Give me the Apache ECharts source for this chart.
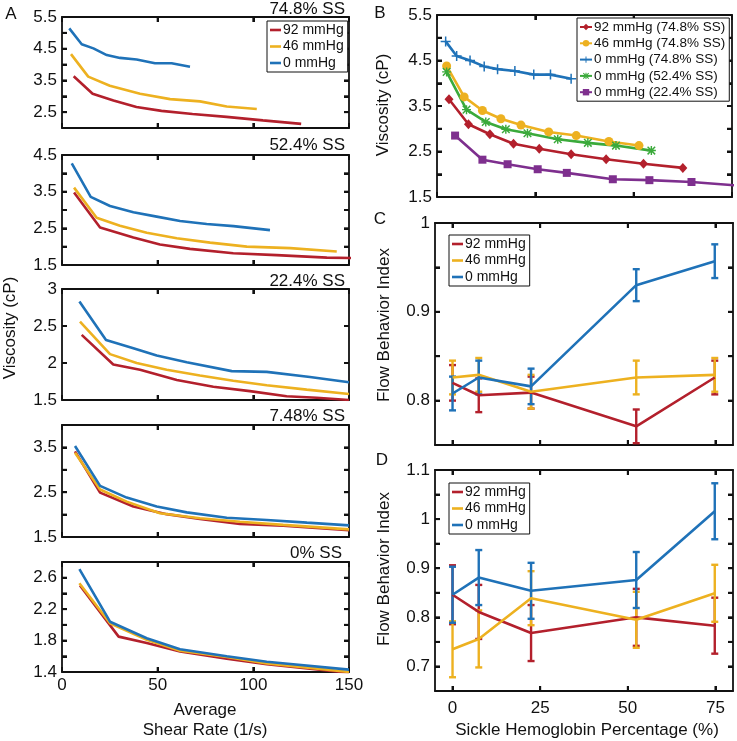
<!DOCTYPE html>
<html>
<head>
<meta charset="utf-8">
<script src="https://cdn.jsdelivr.net/npm/echarts@6/dist/echarts.min.js"></script>
<style>
html,body{margin:0;padding:0;background:#fff;}
#chart{width:737px;height:741px;}
</style>
</head>
<body>
<div id="chart"></div>
<script>
// ---------- DATA ----------
const seriesNames = ['92 mmHg', '46 mmHg', '0 mmHg'];
const panelATitles = ['74.8% SS', '52.4% SS', '22.4% SS', '7.48% SS', '0% SS'];

// Panel A : 74.8% SS
const a1_x92 = [6.1, 16, 26.9, 38.9, 52, 68.2, 86, 105, 125];
const a1_y92 = [3.63, 3.08, 2.87, 2.66, 2.54, 2.44, 2.35, 2.24, 2.13];
const a1_x46 = [4.7, 13.7, 25, 40.8, 56.5, 72.1, 86.1, 101.8];
const a1_y46 = [4.33, 3.62, 3.33, 3.08, 2.91, 2.84, 2.68, 2.60];
const a1_x0 = [3.8, 10.3, 16.4, 23.4, 30.3, 39, 48.6, 57.3, 66.9];
const a1_y0 = [5.14, 4.64, 4.51, 4.30, 4.21, 4.16, 4.04, 4.04, 3.93];
// Panel A : 52.4% SS
const a2_x92 = [6.3, 19.9, 37.3, 51.2, 66.9, 89.5, 112.2, 138.4, 155];
const a2_y92 = [3.48, 2.52, 2.25, 2.06, 1.94, 1.82, 1.77, 1.70, 1.69];
const a2_x46 = [6.3, 18.1, 30.3, 44.3, 60, 77.4, 96.6, 119.3, 143.6];
const a2_y46 = [3.61, 2.79, 2.57, 2.38, 2.23, 2.11, 2.00, 1.96, 1.87];
const a2_x0 = [5.1, 15, 25.1, 37.3, 49.5, 61.7, 75.6, 89.6, 108.7];
const a2_y0 = [4.27, 3.36, 3.11, 2.94, 2.82, 2.70, 2.62, 2.56, 2.45];
// Panel A : 22.4% SS
const a3_x92 = [10.3, 26.8, 40.8, 60, 79.1, 98.2, 117.4, 133.1, 150];
const a3_y92 = [2.38, 1.98, 1.91, 1.77, 1.68, 1.62, 1.55, 1.53, 1.50];
const a3_x46 = [9.4, 25.1, 39, 54.7, 72.1, 89.5, 107, 127.9, 150];
const a3_y46 = [2.56, 2.12, 2.00, 1.91, 1.83, 1.76, 1.70, 1.64, 1.58];
const a3_x0 = [9.1, 23, 37.3, 49.5, 65.2, 88.7, 107, 129.6, 150];
const a3_y0 = [2.83, 2.31, 2.20, 2.10, 2.01, 1.89, 1.88, 1.81, 1.74];
// Panel A : 7.48% SS
const a4_x92 = [6.8, 19.9, 37.3, 54.7, 72.1, 93, 115.6, 150];
const a4_y92 = [3.41, 2.49, 2.18, 2.01, 1.90, 1.79, 1.75, 1.65];
const a4_x46 = [6.8, 19.9, 33.8, 51.2, 72.1, 93, 115.6, 150];
const a4_y46 = [3.38, 2.56, 2.29, 2.03, 1.92, 1.84, 1.77, 1.67];
const a4_x0 = [6.8, 19.9, 33.8, 49.5, 65.2, 86.1, 107, 128, 150];
const a4_y0 = [3.53, 2.64, 2.38, 2.18, 2.05, 1.93, 1.88, 1.82, 1.76];
// Panel A : 0% SS
const a5_x92 = [9.4, 29.6, 44.3, 61.7, 86.1, 107, 150];
const a5_y92 = [2.50, 1.85, 1.77, 1.66, 1.57, 1.50, 1.39];
const a5_x46 = [9.1, 25.1, 44.3, 61.7, 86.1, 107, 150];
const a5_y46 = [2.53, 2.02, 1.81, 1.67, 1.59, 1.51, 1.40];
const a5_x0 = [9.1, 25.1, 44.3, 61.7, 86.1, 107, 150];
const a5_y0 = [2.71, 2.04, 1.83, 1.69, 1.60, 1.53, 1.43];

// Panel B
const bNames = ['92 mmHg (74.8% SS)', '46 mmHg (74.8% SS)', '0 mmHg (74.8% SS)', '0 mmHg (52.4% SS)', '0 mmHg (22.4% SS)'];
const b_x92 = [6.1, 16, 26.9, 38.9, 52, 68.2, 86, 105, 125];
const b_y92 = [3.65, 3.10, 2.88, 2.67, 2.56, 2.44, 2.33, 2.23, 2.14];
const b_x46 = [4.9, 13.8, 23.1, 32.5, 42.7, 56.8, 70.8, 87.4, 102.7];
const b_y46 = [4.38, 3.70, 3.40, 3.22, 3.08, 2.93, 2.85, 2.72, 2.63];
const b_x0 = [4.4, 10, 16.8, 24, 30.8, 39.6, 49.2, 57.7, 68.2];
const b_y0 = [4.92, 4.60, 4.50, 4.37, 4.31, 4.27, 4.19, 4.19, 4.10];
const b_x0_524 = [4.9, 15, 24.8, 35, 46, 61.4, 76.7, 91, 109];
const b_y0_524 = [4.25, 3.42, 3.15, 2.99, 2.90, 2.77, 2.69, 2.63, 2.52];
const b_x0_224 = [9.2, 23.1, 35.9, 51.2, 66, 89.4, 108, 129.4, 160];
const b_y0_224 = [2.85, 2.32, 2.22, 2.11, 2.03, 1.89, 1.87, 1.83, 1.73];

// Panels C and D (x = sickle hemoglobin %)
const hbsPercent = [0, 7.48, 22.4, 52.4, 74.8];
const c_y92 = [0.820, 0.806, 0.809, 0.771, 0.826];
const c_e92 = [0.020, 0.019, 0.018, 0.019, 0.019];
const c_y46 = [0.826, 0.829, 0.810, 0.826, 0.829];
const c_e46 = [0.019, 0.019, 0.019, 0.019, 0.019];
const c_y0 = [0.808, 0.826, 0.816, 0.930, 0.957];
const c_e0 = [0.019, 0.019, 0.020, 0.018, 0.019];
const d_y92 = [0.846, 0.811, 0.768, 0.800, 0.783];
const d_e92 = [0.060, 0.055, 0.057, 0.058, 0.057];
const d_y46 = [0.735, 0.756, 0.839, 0.795, 0.849];
const d_e46 = [0.057, 0.058, 0.055, 0.057, 0.058];
const d_y0 = [0.846, 0.881, 0.854, 0.876, 1.016];
const d_e0 = [0.057, 0.056, 0.057, 0.057, 0.057];

// Tick values / labels
const shearTicks = [0, 50, 100, 150];
const hbsTicks = [0, 25, 50, 75];
const a1Ticks = [2, 2.5, 3, 3.5, 4, 4.5, 5, 5.5], a1Labels = [2.5, 3.5, 4.5, 5.5];
const a2Ticks = [1.5, 2, 2.5, 3, 3.5, 4, 4.5], a2Labels = [1.5, 2.5, 3.5, 4.5];
const a3Ticks = [1.5, 2, 2.5, 3], a3Labels = [1.5, 2, 2.5, 3];
const a4Ticks = [1.5, 2, 2.5, 3, 3.5, 4], a4Labels = [1.5, 2.5, 3.5];
const a5Ticks = [1.4, 1.6, 1.8, 2.0, 2.2, 2.4, 2.6, 2.8], a5Labels = [1.4, 1.8, 2.2, 2.6];
const bTicks = [1.5, 2, 2.5, 3, 3.5, 4, 4.5, 5, 5.5], bLabels = [1.5, 2.5, 3.5, 4.5, 5.5];
const cTicks = [0.75, 0.8, 0.85, 0.9, 0.95, 1.0], cLabels = [0.8, 0.9, 1];
const dTicks = [0.65, 0.7, 0.75, 0.8, 0.85, 0.9, 0.95, 1.0, 1.05, 1.1], dLabels = [0.7, 0.8, 0.9, 1, 1.1];

// ---------- STYLE ----------
const FONT = '"Liberation Sans", Arial, Helvetica, sans-serif';
const INK = '#111111';
const COL = { r: '#B3202C', o: '#EDB120', b: '#1F72B8', g: '#3BAA3B', p: '#7E2F8E' };
const LW = 2.6;
const TICK_LEN = 5;

const grids = [
  { left: 62, top: 17, width: 287, height: 111 },
  { left: 62, top: 155, width: 287, height: 110 },
  { left: 62, top: 289, width: 287, height: 111 },
  { left: 62, top: 425, width: 287, height: 112 },
  { left: 62, top: 562, width: 287, height: 110 },
  { left: 437, top: 15, width: 295, height: 182 },
  { left: 435, top: 223, width: 298, height: 222 },
  { left: 435, top: 470, width: 298, height: 221 }
].map(g => Object.assign({ show: false, containLabel: false }, g));

const xAxis = [], yAxis = [];
const series = [];

// tick marks on all four sides, positioned through the axis scale (api.coord)
function tickSeries(gi, vals, vertical, xr, yr) {
  const data = vertical
    ? vals.map(v => [v, (yr[0] + yr[1]) / 2, 0])
    : vals.map(v => [(xr[0] + xr[1]) / 2, v, 0]);
  series.push({
    type: 'custom', name: 'tk' + gi + (vertical ? 'x' : 'y'),
    xAxisIndex: 2 * gi, yAxisIndex: 2 * gi, clip: true, animation: false, z: 3,
    data: data, encode: { x: 0, y: 1 },
    renderItem: function (params, api) {
      const lo = api.coord([xr[0], yr[0]]);
      const hi = api.coord([xr[1], yr[1]]);
      const p = api.coord([api.value(0), api.value(1)]);
      const st = { stroke: INK, lineWidth: 2 };
      if (vertical) {
        const x = p[0];
        return { type: 'group', children: [
          { type: 'line', shape: { x1: x, y1: lo[1], x2: x, y2: lo[1] - TICK_LEN }, style: st },
          { type: 'line', shape: { x1: x, y1: hi[1], x2: x, y2: hi[1] + TICK_LEN }, style: st }
        ] };
      }
      const y = p[1];
      return { type: 'group', children: [
        { type: 'line', shape: { x1: lo[0], y1: y, x2: lo[0] + TICK_LEN, y2: y }, style: st },
        { type: 'line', shape: { x1: hi[0], y1: y, x2: hi[0] - TICK_LEN, y2: y }, style: st }
      ] };
    }
  });
}

function addAxes(gi, xr, xt, xl, yr, yt, yl, xMargin) {
  const lab = { fontSize: 17, color: INK, fontFamily: FONT };
  const axLine = { show: true, onZero: false, lineStyle: { color: INK, width: 1.8 } };
  const tick = (vals) => ({ show: true, inside: true, length: TICK_LEN, customValues: vals, lineStyle: { color: INK, width: 2 } });
  xAxis.push({ type: 'value', gridIndex: gi, position: 'bottom', min: xr[0], max: xr[1],
    axisLine: axLine, splitLine: { show: false }, axisTick: tick(xt),
    axisLabel: Object.assign({ show: !!xl, customValues: xl || xt, margin: xMargin || 5 }, lab) });
  xAxis.push({ type: 'value', gridIndex: gi, position: 'top', min: xr[0], max: xr[1],
    axisLine: axLine, splitLine: { show: false }, axisTick: tick(xt),
    axisLabel: { show: false, customValues: xt } });
  yAxis.push({ type: 'value', gridIndex: gi, position: 'left', min: yr[0], max: yr[1],
    axisLine: axLine, splitLine: { show: false }, axisTick: tick(yt),
    axisLabel: Object.assign({ customValues: yl, margin: 5 }, lab) });
  yAxis.push({ type: 'value', gridIndex: gi, position: 'right', min: yr[0], max: yr[1],
    axisLine: axLine, splitLine: { show: false }, axisTick: tick(yt),
    axisLabel: { show: false, customValues: yt } });
}
const axisSpecs = [
  [0, [0, 150], shearTicks, null, [2, 5.5], a1Ticks, a1Labels],
  [1, [0, 150], shearTicks, null, [1.5, 4.5], a2Ticks, a2Labels],
  [2, [0, 150], shearTicks, null, [1.5, 3], a3Ticks, a3Labels],
  [3, [0, 150], shearTicks, null, [1.5, 4], a4Ticks, a4Labels],
  [4, [0, 150], shearTicks, shearTicks, [1.4, 2.8], a5Ticks, a5Labels, 5],
  [5, [0, 150], shearTicks, null, [1.5, 5.5], bTicks, bLabels],
  [6, [-5, 80], hbsTicks, null, [0.75, 1.0], cTicks, cLabels],
  [7, [-5, 80], hbsTicks, hbsTicks, [0.65, 1.1], dTicks, dLabels, 9]
];
axisSpecs.forEach(s => addAxes.apply(null, s));

const zip = (xs, ys) => xs.map((x, i) => [x, ys[i]]);
function line(gi, name, xs, ys, color, extra) {
  series.push(Object.assign({
    type: 'line', name, xAxisIndex: 2 * gi, yAxisIndex: 2 * gi, data: zip(xs, ys),
    symbol: 'none', showSymbol: false, clip: true, animation: false,
    lineStyle: { color, width: LW }, itemStyle: { color }
  }, extra || {}));
}
function errBars(gi, name, xs, ys, es, color) {
  series.push({
    type: 'custom', name, xAxisIndex: 2 * gi, yAxisIndex: 2 * gi, clip: true, animation: false,
    data: xs.map((x, i) => [x, ys[i], es[i]]),
    encode: { x: 0, y: 1 },
    renderItem: function (params, api) {
      const x = api.value(0), y = api.value(1), e = api.value(2);
      const t = api.coord([x, y + e]), b = api.coord([x, y - e]);
      const w = 3.5, st = { stroke: color, lineWidth: 2.4 };
      return { type: 'group', children: [
        { type: 'line', shape: { x1: t[0], y1: t[1], x2: b[0], y2: b[1] }, style: st },
        { type: 'line', shape: { x1: t[0] - w, y1: t[1], x2: t[0] + w, y2: t[1] }, style: st },
        { type: 'line', shape: { x1: b[0] - w, y1: b[1], x2: b[0] + w, y2: b[1] }, style: st }
      ] };
    }
  });
}

// Panel A
const aSets = [
  [a1_x92, a1_y92, a1_x46, a1_y46, a1_x0, a1_y0],
  [a2_x92, a2_y92, a2_x46, a2_y46, a2_x0, a2_y0],
  [a3_x92, a3_y92, a3_x46, a3_y46, a3_x0, a3_y0],
  [a4_x92, a4_y92, a4_x46, a4_y46, a4_x0, a4_y0],
  [a5_x92, a5_y92, a5_x46, a5_y46, a5_x0, a5_y0]
];
aSets.forEach((s, gi) => {
  line(gi, seriesNames[0], s[0], s[1], COL.r);
  line(gi, seriesNames[1], s[2], s[3], COL.o);
  line(gi, seriesNames[2], s[4], s[5], COL.b);
});

// Panel B
const plusPath = 'path://M4.25,0h1.5v10h-1.5zM0,4.25h10v1.5h-10z';
const starPath = 'path://M4.2,0H5.8V10H4.2ZM0,4.2H10V5.8H0ZM1.37,0.23L9.77,8.63L8.63,9.77L0.23,1.37ZM8.63,0.23L9.77,1.37L1.37,9.77L0.23,8.63Z';
const mk = (symbol, size) => ({ symbol, symbolSize: size, showSymbol: true });
line(5, bNames[0], b_x92, b_y92, COL.r, mk('diamond', [9, 10]));
line(5, bNames[1], b_x46, b_y46, COL.o, mk('circle', 9));
line(5, bNames[2], b_x0, b_y0, COL.b, mk(plusPath, 10));
line(5, bNames[3], b_x0_524, b_y0_524, COL.g, mk(starPath, 9));
line(5, bNames[4], b_x0_224, b_y0_224, COL.p, mk('rect', 8));

// Panels C and D
[[6, c_y92, c_e92, c_y46, c_e46, c_y0, c_e0], [7, d_y92, d_e92, d_y46, d_e46, d_y0, d_e0]].forEach(s => {
  const gi = s[0];
  errBars(gi, 'err92_' + gi, hbsPercent, s[1], s[2], COL.r);
  line(gi, seriesNames[0], hbsPercent, s[1], COL.r);
  errBars(gi, 'err46_' + gi, hbsPercent, s[3], s[4], COL.o);
  line(gi, seriesNames[1], hbsPercent, s[3], COL.o);
  errBars(gi, 'err0_' + gi, hbsPercent, s[5], s[6], COL.b);
  line(gi, seriesNames[2], hbsPercent, s[5], COL.b);
});

// tick-mark series (added after the data series, same setup as the error bars)
axisSpecs.forEach(s => {
  tickSeries(s[0], s[2], true, s[1], s[4]);
  tickSeries(s[0], s[5], false, s[1], s[4]);
});

function legendLines(left, top) {
  return {
    left, top, orient: 'vertical', data: seriesNames, selectedMode: false,
    icon: 'rect', itemWidth: 11, itemHeight: 2.6, itemGap: 2.5,
    padding: [2, 4, 2, 3], borderColor: INK, borderWidth: 1, backgroundColor: '#fff',
    textStyle: { fontSize: 14, fontFamily: FONT, color: INK, lineHeight: 14, padding: [0, 0, 0, -3] }
  };
}
const legends = [
  legendLines(267, 21),
  {
    left: 577, top: 18, orient: 'vertical', data: bNames, selectedMode: false,
    itemWidth: 12, itemHeight: 8, itemGap: 2.3,
    padding: [2, 4, 2, 2], borderColor: INK, borderWidth: 1, backgroundColor: '#fff',
    textStyle: { fontSize: 13.5, fontFamily: FONT, color: INK, lineHeight: 13, padding: [0, 0, 0, -3] }
  },
  legendLines(449, 235),
  legendLines(449, 483)
];

function txt(text, x, y, opts) {
  opts = opts || {};
  return {
    type: 'text', x, y, rotation: opts.rot || 0, silent: true,
    style: {
      text, font: (opts.size || 17) + 'px ' + FONT, fill: INK,
      align: opts.align || 'center', textAlign: opts.align || 'center',
      verticalAlign: 'middle', textVerticalAlign: 'middle'
    }
  };
}
const titleY = [9, 145, 281, 416, 553];
const graphics = [
  txt('A', 11, 14), txt('B', 380, 13), txt('C', 380, 219), txt('D', 382, 460),
  txt('Viscosity (cP)', 10, 328, { rot: Math.PI / 2 }),
  txt('Average', 205, 710), txt('Shear Rate (1/s)', 205, 730),
  txt('Viscosity (cP)', 383, 105, { rot: Math.PI / 2 }),
  txt('Flow Behavior Index', 384, 325, { rot: Math.PI / 2 }),
  txt('Flow Behavior Index', 384, 569, { rot: Math.PI / 2 }),
  txt('Sickle Hemoglobin Percentage (%)', 587, 730)
].concat(panelATitles.map((t, i) => txt(t, i === 4 ? 342 : 345, titleY[i], { align: 'right' })));

const chart = echarts.init(document.getElementById('chart'), null, { renderer: 'canvas' });
chart.setOption({
  animation: false,
  backgroundColor: '#fff',
  textStyle: { fontFamily: FONT },
  grid: grids, xAxis, yAxis, series, legend: legends, graphic: graphics
});
</script>
</body>
</html>
